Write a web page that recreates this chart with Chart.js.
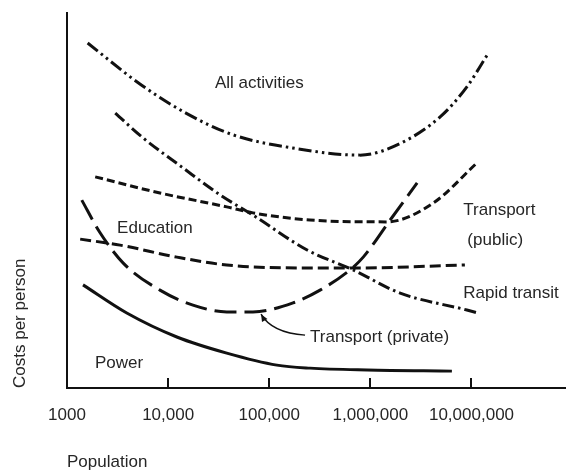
<!DOCTYPE html>
<html>
<head>
<meta charset="utf-8">
<script src="https://cdn.jsdelivr.net/npm/chart.js@4"></script>
<style>
  html, body { margin: 0; padding: 0; background: #fff; }
  canvas { display: block; }
</style>
</head>
<body>
<canvas id="grafico" width="566" height="473"></canvas>
<script>
// Eixo x: população (escala log); eixo y: custo relativo por pessoa (sem unidade)
const tickValues = [1000, 10000, 100000, 1000000, 10000000];
const tickLabels = ['1000', '10,000', '100,000', '1,000,000', '10,000,000'];

const allActX = [1600, 5300, 15000, 44000, 170000, 790000, 2000000, 4900000, 9000000, 14300000];
const allActY = [92, 81, 73.3, 67.5, 64, 62.1, 65.3, 72.3, 80.3, 88.8];

const rapidX = [3000, 5650, 13700, 32600, 69000, 237000, 674000, 1970000, 9000000, 11600000];
const rapidY = [73.3, 66.7, 58.9, 51.5, 46.1, 36.8, 31.5, 25.3, 20.8, 20];

const publicX = [1900, 8300, 38000, 69000, 253000, 1460000, 4170000, 11300000];
const publicY = [56.3, 52, 48.3, 46.7, 44.8, 44.3, 49.3, 60];

const privateX = [1400, 2100, 3600, 8300, 17600, 38000, 69000, 172000, 318000, 630000, 850000, 1570000, 2900000];
const privateY = [50.1, 41.6, 33.3, 26.1, 22.1, 20.3, 20.3, 22.7, 26.1, 31.5, 34.9, 44.8, 54.7];

const educX = [1350, 3350, 12200, 38000, 253000, 674000, 8600000];
const educY = [39.7, 38.1, 34.9, 32.8, 32, 32, 32.8];

const powerX = [1440, 3900, 12200, 38000, 119000, 253000, 930000, 6400000];
const powerY = [27.5, 20, 13.6, 9.3, 6.1, 5.3, 4.8, 4.5];

// Rótulos escritos dentro do gráfico
const labelTexts = ['All activities', 'Education', 'Transport', '(public)', 'Rapid transit', 'Transport (private)', 'Power'];
const labelX = [29000, 3130, 8300000, 9100000, 8300000, 253000, 1890];
const labelY = [81.3, 42.7, 47.5, 39.5, 25.3, 13.6, 6.7];

// Seta do "Transport (private)": cauda, controle, ponta
const arrowX = [226000, 106000, 83000];
const arrowY = [14.1, 14.7, 19.7];

const FONT = '"Liberation Sans", Arial, sans-serif';
const INK = '#111';
const TXT = '#262626';

function pts(xs, ys) {
  return xs.map((v, i) => ({ x: v, y: ys[i] }));
}

function serie(label, xs, ys, dash) {
  return {
    label: label,
    data: pts(xs, ys),
    borderColor: INK,
    borderWidth: 3,
    borderDash: dash,
    borderCapStyle: 'butt',
    pointRadius: 0,
    cubicInterpolationMode: 'monotone',
    fill: false
  };
}

const extras = {
  id: 'extras',
  afterDraw(chart) {
    const { ctx, scales: { x, y } } = chart;
    ctx.save();

    // marcas curtas para dentro do eixo x
    ctx.strokeStyle = INK;
    ctx.lineWidth = 2;
    tickValues.slice(1).forEach(v => {
      const px = Math.round(x.getPixelForValue(v));
      ctx.beginPath();
      ctx.moveTo(px, y.bottom);
      ctx.lineTo(px, y.bottom - 10);
      ctx.stroke();
    });

    // textos
    ctx.fillStyle = TXT;
    ctx.font = '17px ' + FONT;
    ctx.textBaseline = 'middle';
    ctx.textAlign = 'left';
    labelTexts.forEach((t, i) => {
      ctx.fillText(t, x.getPixelForValue(labelX[i]), y.getPixelForValue(labelY[i]));
    });

    // seta
    const ax = arrowX.map(v => x.getPixelForValue(v));
    const ay = arrowY.map(v => y.getPixelForValue(v));
    ctx.strokeStyle = INK;
    ctx.lineWidth = 1.5;
    ctx.beginPath();
    ctx.moveTo(ax[0], ay[0]);
    ctx.quadraticCurveTo(ax[1], ay[1], ax[2], ay[2]);
    ctx.stroke();
    const ang = Math.atan2(ay[2] - ay[1], ax[2] - ax[1]);
    ctx.fillStyle = INK;
    ctx.beginPath();
    ctx.moveTo(ax[2], ay[2]);
    ctx.lineTo(ax[2] - 8 * Math.cos(ang - 0.4), ay[2] - 8 * Math.sin(ang - 0.4));
    ctx.lineTo(ax[2] - 8 * Math.cos(ang + 0.4), ay[2] - 8 * Math.sin(ang + 0.4));
    ctx.closePath();
    ctx.fill();

    ctx.restore();
  }
};

Chart.defaults.font.family = FONT;
Chart.defaults.font.size = 17;
Chart.defaults.color = TXT;

const ctx = document.getElementById('grafico').getContext('2d');

const grafico = new Chart(ctx, {
  type: 'line',
  data: {
    datasets: [
      serie('All activities', allActX, allActY, [13, 4, 2.5, 4, 2.5, 4]),
      serie('Rapid transit', rapidX, rapidY, [12, 4, 2.5, 4]),
      serie('Transport (public)', publicX, publicY, [8, 4]),
      serie('Transport (private)', privateX, privateY, [22, 8]),
      serie('Education', educX, educY, [11, 5]),
      serie('Power', powerX, powerY, [])
    ]
  },
  options: {
    responsive: false,
    animation: false,
    layout: { padding: { top: 13, right: 0, bottom: 0, left: 0 } },
    plugins: {
      legend: { display: false },
      tooltip: { enabled: false }
    },
    scales: {
      x: {
        type: 'logarithmic',
        min: 1000,
        max: 86000000,
        afterBuildTicks(s) { s.ticks = tickValues.map(v => ({ value: v })); },
        afterFit(s) { s.height = 85; },
        ticks: {
          autoSkip: false,
          maxRotation: 0,
          padding: 17,
          color: TXT,
          callback: (v, i) => tickLabels[i]
        },
        grid: { display: false, drawTicks: false },
        border: { display: true, color: INK, width: 2 },
        title: { display: true, text: 'Population', align: 'start', color: TXT, padding: { top: 0, bottom: 0 } }
      },
      y: {
        min: 0,
        max: 100,
        afterFit(s) { s.width = 67; },
        ticks: { display: false },
        grid: { display: false, drawTicks: false },
        border: { display: true, color: INK, width: 2 },
        title: { display: true, text: 'Costs per person', align: 'start', color: TXT, padding: { top: 10, bottom: 0 } }
      }
    }
  },
  plugins: [extras]
});
</script>
</body>
</html>
